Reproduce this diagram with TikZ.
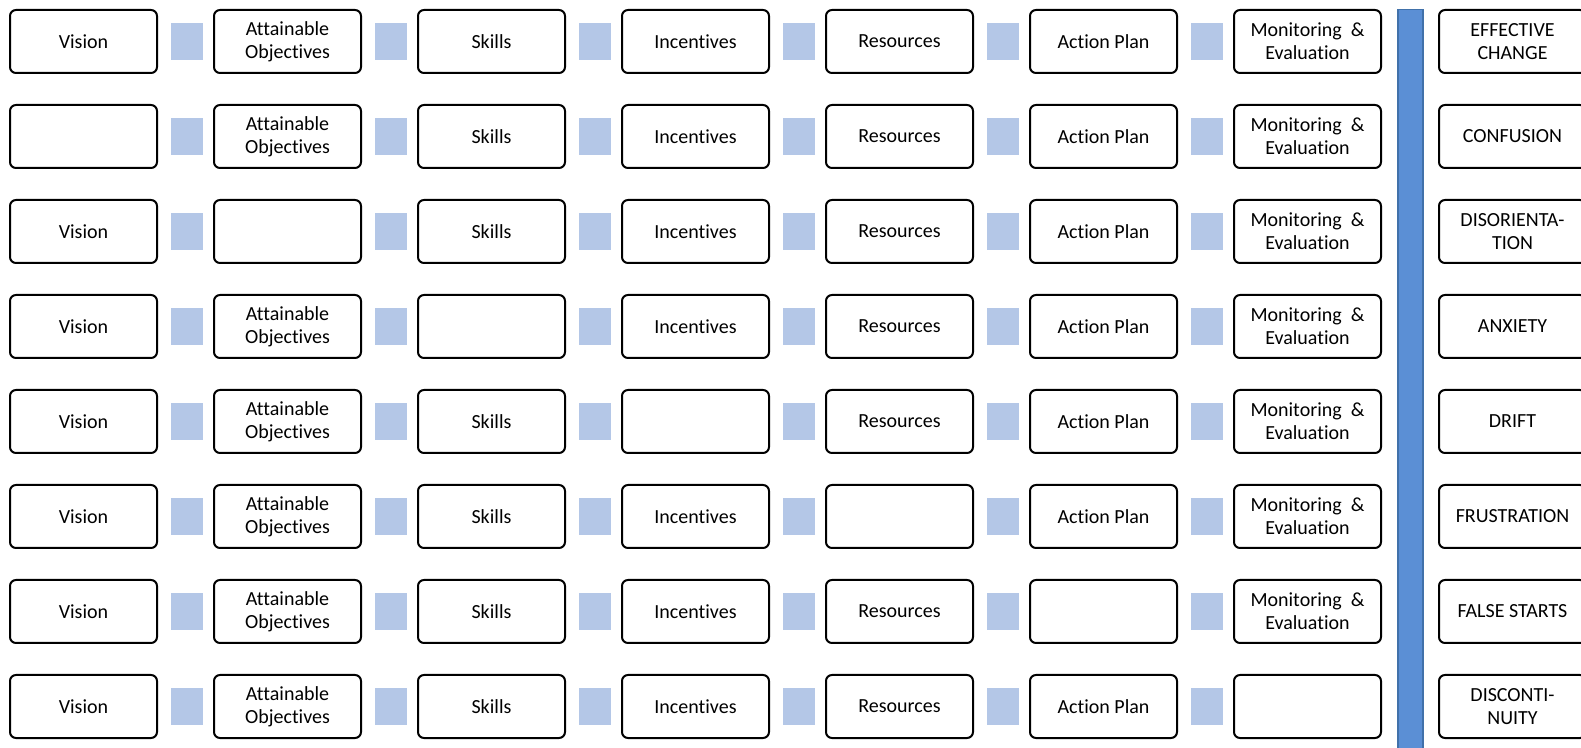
\documentclass[tikz,border=0pt]{standalone}
\usepackage{fontspec}
\setmainfont{Carlito}[Ligatures=NoCommon]
\usetikzlibrary{positioning}
\definecolor{gapblue}{RGB}{180,199,231}
\definecolor{barblue}{RGB}{91,143,213}
\definecolor{baredge}{RGB}{65,113,170}
\newcommand{\cellfont}{\fontsize{10}{11.5}\selectfont}

\begin{document}
\begin{tikzpicture}[
  x=0.5pt, y=-0.5pt,
  every node/.style={font=\cellfont},
  cell/.style={draw,rounded corners=3pt,line width=1pt,minimum width=73.5pt,minimum height=31.5pt,inner sep=0pt,align=center,fill=white},
  gap/.style={fill=gapblue,minimum width=16pt,minimum height=18.5pt,inner sep=0pt},
  bar/.style={fill=barblue,draw=baredge,line width=0.6pt}
]
\clip (0,0) rectangle (1581,748);
\fill[white] (0,0) rectangle (1581,748);

% the seven elements, one missing per row
\foreach \r in {1,...,8}{
  \foreach \c/\txt in {1/Vision,2/{Attainable\\Objectives},3/Skills,4/Incentives,5/Resources,6/Action Plan,7/{Monitoring~~\&\\Evaluation}}{
    \ifnum\numexpr\c+1\relax=\r
      \node[cell] (box-\r-\c) at ({83.5+204*(\c-1)},{41.5+95*(\r-1)}) {};
    \else
      \node[cell] (box-\r-\c) at ({83.5+204*(\c-1)},{41.5+95*(\r-1)}) {\txt};
    \fi
  }
  \foreach \c in {1,...,6}
    \node[gap] (gap-\r-\c) at ({187+204*(\c-1)},{41.5+95*(\r-1)}) {};
}

% divider
\draw[bar] (1398,9.5) rectangle (1423,760);

% outcomes
\foreach \r/\txt in {1/{EFFECTIVE\\CHANGE},2/CONFUSION,3/{DISORIENTA-\\TION},4/ANXIETY,5/DRIFT,6/FRUSTRATION,7/FALSE STARTS,8/{DISCONTI-\\NUITY}}
  \node[cell] (out-\r) at (1512.5,{41.5+95*(\r-1)}) {\txt};

\end{tikzpicture}
\end{document}
